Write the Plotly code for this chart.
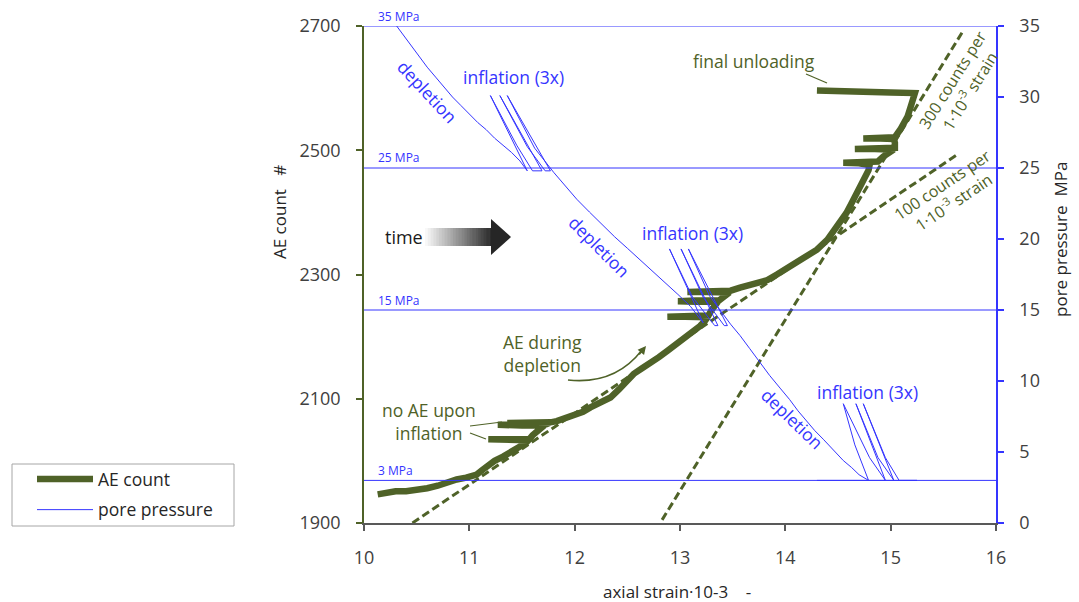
import plotly.graph_objects as go

# ---------------- data ----------------
# AE count versus axial strain, in time order (spikes = inflation, no AE)
ae_strain = [10.13, 10.20, 10.30, 10.40, 10.50, 10.60, 10.70, 10.79, 10.88, 10.97,
             11.07, 11.12, 11.18, 11.24, 11.32, 11.40, 11.47, 11.53, 11.56,
             11.40, 11.18, 11.40, 11.57,
             11.60, 11.64, 11.68, 11.71,
             11.50, 11.27, 11.50, 11.73,
             11.76, 11.55, 11.36, 11.55, 11.77,
             11.83, 11.92, 12.00, 12.08, 12.15, 12.24, 12.34, 12.42, 12.50, 12.56,
             12.64, 12.72, 12.80, 12.88, 12.96, 13.04, 13.12, 13.19, 13.24, 13.26,
             13.05, 12.88, 13.05, 13.27,
             13.30, 13.34, 13.36,
             13.15, 12.98, 13.15, 13.37,
             13.42, 13.47,
             13.25, 13.07, 13.25, 13.48,
             13.57, 13.66, 13.75, 13.83, 13.92, 14.02, 14.11, 14.21, 14.30, 14.40,
             14.47, 14.53, 14.58, 14.63, 14.68, 14.72, 14.76, 14.79, 14.80,
             14.70, 14.55, 14.70, 14.88,
             14.93, 14.98, 15.03,
             14.85, 14.66, 14.85, 15.04,
             15.04, 15.03,
             14.90, 14.74, 14.90, 15.04,
             15.09, 15.13, 15.16, 15.19, 15.21, 15.23,
             15.00, 14.70, 14.50, 14.30]
ae_count = [1946, 1949, 1951, 1951, 1953, 1956, 1960, 1966, 1970, 1973,
            1978, 1985, 1993, 2000, 2007, 2014, 2021, 2028, 2033,
            2034, 2035, 2035, 2035,
            2041, 2048, 2054, 2057,
            2057, 2058, 2059, 2059,
            2061, 2061, 2061, 2062, 2062,
            2064, 2069, 2073, 2079, 2086, 2094, 2102, 2115, 2130, 2140,
            2149, 2157, 2167, 2177, 2187, 2197, 2208, 2217, 2226, 2231,
            2232, 2232, 2233, 2234,
            2243, 2252, 2256,
            2256, 2257, 2258, 2258,
            2265, 2271,
            2272, 2272, 2273, 2274,
            2279, 2283, 2287, 2291, 2300, 2310, 2318, 2328, 2340, 2356,
            2373, 2386, 2399, 2415, 2431, 2445, 2457, 2468, 2476,
            2479, 2480, 2481, 2482,
            2490, 2497, 2501,
            2502, 2502, 2503, 2504,
            2512, 2518,
            2519, 2519, 2520, 2521,
            2533, 2544, 2554, 2570, 2585, 2592,
            2593, 2594, 2595, 2596]

# pore pressure (MPa) versus axial strain, in time order
pp_strain = [10.31, 10.38, 10.45, 10.52, 10.60, 10.68, 10.76, 10.84, 10.92, 11.00,
             11.08, 11.16, 11.24, 11.32, 11.40, 11.48, 11.55,
             11.20, 11.45, 11.60, 11.69,
             11.29, 11.55, 11.72, 11.77,
             11.36, 11.62, 11.80,
             11.90, 12.02, 12.14, 12.26, 12.38, 12.50, 12.62, 12.74, 12.86, 12.98,
             13.10, 13.22,
             12.90, 13.12, 13.33, 13.36,
             13.01, 13.22, 13.42, 13.45,
             13.08, 13.28, 13.48,
             13.57, 13.66, 13.76, 13.85, 13.95, 14.04, 14.12, 14.20, 14.28, 14.36,
             14.46, 14.55, 14.63, 14.70, 14.79,
             14.66, 14.55, 14.80, 14.95,
             14.67, 14.88, 15.03,
             14.74, 14.95, 15.08,
             15.25, 14.30]
pp_mpa = [35.0, 34.3, 33.6, 32.9, 32.1, 31.4, 30.7, 30.0, 29.4, 28.8,
          28.2, 27.7, 27.1, 26.6, 26.1, 25.5, 24.8,
          30.1, 26.6, 24.8, 24.8,
          30.1, 26.5, 24.8, 24.8,
          30.1, 26.4, 24.7,
          23.8, 22.8, 21.9, 21.0, 20.15, 19.35, 18.55, 17.75, 16.95, 16.1,
          15.25, 14.1,
          19.3, 15.9, 13.9, 13.9,
          19.3, 15.9, 13.9, 13.9,
          19.3, 16.0, 14.0,
          13.2, 12.3, 11.3, 10.4, 9.5, 8.7, 7.9, 7.2, 6.5, 5.9,
          5.1, 4.4, 3.9, 3.4, 3.0,
          5.5, 8.4, 4.6, 3.0,
          8.4, 4.6, 3.0,
          8.4, 4.6, 3.0,
          3.0, 3.0]

# reference pressure levels
ref_mpa = [35, 25, 15, 3]
ref_labels = ["35 MPa", "25 MPa", "15 MPa", "3 MPa"]

# guide lines (AE rate)
rate100_strain = [10.46, 15.64]
rate100_count = [1900, 2494]
rate300_strain = [12.83, 15.68]
rate300_count = [1905, 2690]

x_ticks = [10, 11, 12, 13, 14, 15, 16]
y_ticks = [1900, 2100, 2300, 2500, 2700]
y2_ticks = [0, 5, 10, 15, 20, 25, 30, 35]

# ---------------- styling ----------------
OLIVE = "#4F6228"
BLUE = "#3535FF"
FONT = "Open Sans"
W, H = 1079, 602
L, R, T, B = 364, 83, 26, 79
PW, PH = W - L - R, H - T - B


def px(x):
    return (x - L) / PW


def py(y):
    return (H - B - y) / PH


fig = go.Figure()

fig.add_trace(go.Scatter(x=ae_strain, y=ae_count, mode="lines", name="AE count",
                         line=dict(color=OLIVE, width=6.5), legendgroup="a"))
fig.add_trace(go.Scatter(x=rate100_strain, y=rate100_count, mode="lines", showlegend=False,
                         line=dict(color=OLIVE, width=3, dash="8px,4px"), hoverinfo="skip"))
fig.add_trace(go.Scatter(x=rate300_strain, y=rate300_count, mode="lines", showlegend=False,
                         line=dict(color=OLIVE, width=3, dash="8px,4px"), hoverinfo="skip"))

for lvl in ref_mpa:
    fig.add_trace(go.Scatter(x=[x_ticks[0], x_ticks[-1]], y=[lvl, lvl], yaxis="y2", mode="lines",
                             showlegend=False, line=dict(color=BLUE, width=1), hoverinfo="skip"))

fig.add_trace(go.Scatter(x=pp_strain, y=pp_mpa, yaxis="y2", mode="lines", name="pore pressure",
                         line=dict(color=BLUE, width=1), legendgroup="b"))

ann = []


def text(x, y, s, color, size, angle=0, anchor="center"):
    ann.append(dict(x=px(x), y=py(y), xref="paper", yref="paper", text=s, showarrow=False,
                    textangle=angle, xanchor=anchor, yanchor="middle",
                    font=dict(family=FONT, size=size, color=color)))


# reference level labels
for lvl, lab in zip(ref_mpa, ref_labels):
    ypx = H - B - lvl / 35 * PH
    text(376, ypx - 10, lab, BLUE, 12, anchor="left")

text(427, 91, "depletion", BLUE, 17.5, 47)
text(599, 246, "depletion", BLUE, 17.5, 45)
text(792, 418, "depletion", BLUE, 17.5, 44)
text(513, 77, "inflation (3x)", BLUE, 17.5)
text(692, 233, "inflation (3x)", BLUE, 17.5)
text(867, 392, "inflation (3x)", BLUE, 17.5)
text(754, 61, "final unloading", OLIVE, 17.5)
text(542, 353, "AE during<br>depletion", OLIVE, 17.5)
text(429, 421, "no AE upon<br>inflation", OLIVE, 17.5)
text(961, 85, "300 counts per<br>1·10<sup>-3</sup> strain", OLIVE, 16, -58)
text(948, 193, "100 counts per<br>1·10<sup>-3</sup> strain", OLIVE, 16, -34)
text(404, 237, "time", "#1a1a1a", 18)

# axis titles
text(279, 212, "AE count\u00a0\u00a0 #", "#262626", 17, -90)
text(1060, 240, "pore pressure\u00a0 MPa", "#262626", 17, -90)
text(677, 591, "axial strain·10-3\u00a0\u00a0\u00a0 -", "#262626", 17)

# arrow head for the curved arrow
ann.append(dict(x=px(646), y=py(346), xref="paper", yref="paper", ax=-8, ay=10, text="",
                showarrow=True, arrowhead=2, arrowsize=1.1, arrowwidth=1.5, arrowcolor=OLIVE,
                standoff=0))

shapes = []


def seg(x0, y0, x1, y1, color=OLIVE, width=1.2):
    shapes.append(dict(type="line", xref="paper", yref="paper", x0=px(x0), y0=py(y0),
                       x1=px(x1), y1=py(y1), line=dict(color=color, width=width)))


seg(806, 74, 827, 83)
seg(470, 426, 502, 422)
seg(470, 433, 486, 439)

shapes.append(dict(type="path", xref="paper", yref="paper",
                   path="M %f,%f Q %f,%f %f,%f" % (px(568), py(380), px(615), py(385), px(642), py(350)),
                   line=dict(color=OLIVE, width=1.5)))

# gradient "time" arrow
n = 24
x0, x1 = 425, 492
for i in range(n):
    t = i / (n - 1)
    g = int(248 - t * (248 - 45))
    xa = x0 + (x1 - x0) * i / n
    xb = x0 + (x1 - x0) * (i + 1) / n + 0.6
    shapes.append(dict(type="rect", xref="paper", yref="paper", x0=px(xa), x1=px(xb),
                       y0=py(246), y1=py(228), line=dict(width=0),
                       fillcolor="rgb(%d,%d,%d)" % (g, g, g)))
shapes.append(dict(type="path", xref="paper", yref="paper",
                   path="M %f,%f L %f,%f L %f,%f Z" % (px(491), py(219), px(511), py(237), px(491), py(255)),
                   fillcolor="#262626", line=dict(width=0)))

# legend frame
shapes.append(dict(type="rect", xref="paper", yref="paper", x0=px(12), x1=px(234),
                   y0=py(526), y1=py(464), line=dict(color="#a6a6a6", width=1),
                   fillcolor="rgba(0,0,0,0)"))

axis_font = dict(family=FONT, size=18, color="#404040")

fig.update_layout(
    width=W, height=H, autosize=False,
    margin=dict(l=L, r=R, t=T, b=B, pad=0),
    paper_bgcolor="white", plot_bgcolor="white",
    font=dict(family=FONT),
    showlegend=True,
    legend=dict(x=px(32), y=py(461), xanchor="left", yanchor="top",
                borderwidth=0, bgcolor="rgba(0,0,0,0)",
                font=dict(family=FONT, size=17.5, color="#262626"),
                tracegroupgap=5, itemwidth=56),
    xaxis=dict(range=[10, 16], tickvals=x_ticks, showgrid=False, zeroline=False,
               showline=True, linecolor="#595959", linewidth=1.5, ticks="outside",
               ticklen=6, tickcolor="#595959", tickwidth=1.5, tickfont=axis_font,
               ticklabelstandoff=12),
    yaxis=dict(range=[1900, 2700], tickvals=y_ticks, showgrid=False, zeroline=False,
               showline=True, linecolor=OLIVE, linewidth=1.5, ticks="outside",
               ticklen=6, tickcolor=OLIVE, tickwidth=1.5, tickfont=axis_font,
               ticklabelstandoff=12),
    yaxis2=dict(range=[0, 35], tickvals=y2_ticks, overlaying="y", side="right",
                showgrid=False, zeroline=False, showline=True, linecolor=BLUE, linewidth=1.5,
                ticks="outside", ticklen=6, tickcolor=BLUE, tickwidth=1.5, tickfont=axis_font,
                ticklabelstandoff=12),
    annotations=ann,
    shapes=shapes,
)

fig.write_html("out.html")
